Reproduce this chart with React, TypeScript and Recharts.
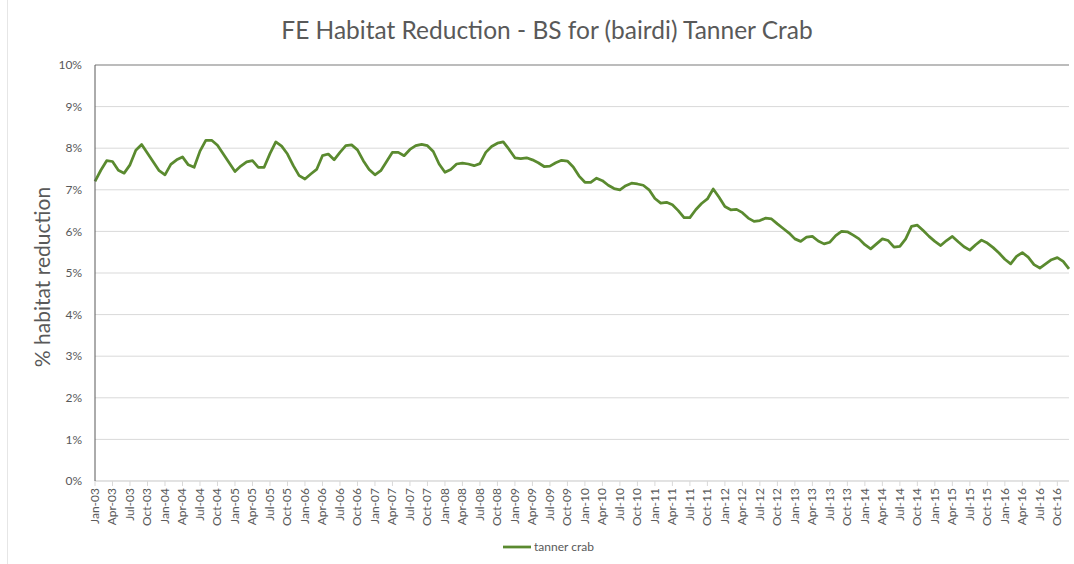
import {
  CartesianGrid,
  Legend,
  Line,
  LineChart,
  ReferenceLine,
  XAxis,
  YAxis,
} from "recharts";

const MONTHS = ["Jan", "Feb", "Mar", "Apr", "May", "Jun", "Jul", "Aug", "Sep", "Oct", "Nov", "Dec"];
const YEARS = ["03", "04", "05", "06", "07", "08", "09", "10", "11", "12", "13", "14", "15", "16"];

// % habitat reduction, monthly Jan-03 .. Dec-16
const tannerCrab = [
  7.20, 7.47, 7.70, 7.68, 7.47, 7.40, 7.60, 7.95, 8.09, 7.88, 7.67, 7.46,
  7.36, 7.61, 7.72, 7.79, 7.60, 7.54, 7.93, 8.19, 8.19, 8.07, 7.86, 7.65,
  7.44, 7.57, 7.67, 7.70, 7.54, 7.54, 7.87, 8.15, 8.05, 7.86, 7.58, 7.34,
  7.26, 7.38, 7.49, 7.82, 7.86, 7.72, 7.90, 8.06, 8.08, 7.96, 7.70, 7.49,
  7.36, 7.46, 7.68, 7.90, 7.90, 7.82, 7.97, 8.06, 8.09, 8.06, 7.92, 7.62,
  7.42, 7.49, 7.62, 7.64, 7.62, 7.58, 7.63, 7.90, 8.04, 8.12, 8.15, 7.97,
  7.77, 7.75, 7.77, 7.72, 7.65, 7.56, 7.57, 7.65, 7.71, 7.69, 7.55, 7.33,
  7.18, 7.18, 7.28, 7.22, 7.11, 7.03, 7.00, 7.10, 7.16, 7.14, 7.11, 7.00,
  6.79, 6.68, 6.70, 6.64, 6.50, 6.33, 6.33, 6.52, 6.67, 6.78, 7.02, 6.82,
  6.60, 6.52, 6.53, 6.45, 6.32, 6.24, 6.26, 6.32, 6.30, 6.18, 6.07, 5.96,
  5.82, 5.76, 5.86, 5.88, 5.77, 5.70, 5.74, 5.90, 6.00, 5.99, 5.91, 5.82,
  5.68, 5.58, 5.70, 5.82, 5.78, 5.62, 5.64, 5.82, 6.12, 6.15, 6.02, 5.88,
  5.76, 5.66, 5.78, 5.88, 5.75, 5.63, 5.55, 5.68, 5.79, 5.72, 5.61, 5.48,
  5.33, 5.22, 5.40, 5.49, 5.38, 5.20, 5.12, 5.22, 5.32, 5.37, 5.28, 5.10,
];

const yTicks = [0, 1, 2, 3, 4, 5, 6, 7, 8, 9, 10];

const categories = YEARS.flatMap((yy) => MONTHS.map((m) => `${m}-${yy}`));
const data = categories.map((month, i) => ({ month, v: tannerCrab[i] }));

const FONT = "Lato, 'Open Sans', sans-serif";
const TEXT = "#595959";
const LINE = "#5a8a2f";

function MonthTick({ x, y, payload }: any) {
  return (
    <g transform={`translate(${x},${y})`}>
      <text
        transform="rotate(-90)"
        textAnchor="end"
        dy={4}
        fontSize={12}
        fill={TEXT}
        fontFamily={FONT}
      >
        {payload.value}
      </text>
    </g>
  );
}

function LegendContent({ payload }: any) {
  return (
    <div style={{ display: "flex", alignItems: "center", paddingTop: 8, fontFamily: FONT }}>
      {(payload || []).map((p: any) => (
        <span key={p.value} style={{ display: "flex", alignItems: "center" }}>
          <svg width={28} height={6} style={{ marginRight: 3 }}>
            <line x1={0} y1={3} x2={28} y2={3} stroke={p.color} strokeWidth={2.75} />
          </svg>
          <span style={{ fontSize: 12, color: TEXT }}>{p.value}</span>
        </span>
      ))}
    </div>
  );
}

export default function App() {
  return (
    <div
      style={{
        position: "absolute",
        left: 0,
        top: 0,
        width: 1074,
        height: 564,
        background: "#fff",
        fontFamily: FONT,
      }}
    >
      <div
        style={{
          position: "absolute",
          left: 7,
          top: 0,
          width: 0,
          height: 564,
          borderLeft: "1px solid #e6e6e6",
        }}
      />
      <div
        style={{
          position: "absolute",
          left: 547,
          top: 15,
          transform: "translateX(-50%)",
          whiteSpace: "nowrap",
          fontSize: 24.5,
          color: TEXT,
        }}
      >
        FE Habitat Reduction - BS for (bairdi) Tanner Crab
      </div>
      <LineChart
        width={1074}
        height={564}
        data={data}
        margin={{ top: 65, right: 5, left: 0, bottom: 0 }}
      >
        <CartesianGrid vertical={false} stroke="#d9d9d9" />
        <XAxis
          dataKey="month"
          interval={2}
          height={50}
          tick={<MonthTick />}
          tickSize={5}
          tickMargin={2}
          tickLine={{ stroke: "#d9d9d9" }}
          axisLine={{ stroke: "#d9d9d9" }}
        />
        <YAxis
          width={95}
          domain={[0, 10]}
          ticks={yTicks}
          tickFormatter={(v: number) => `${v}%`}
          tick={{ fontSize: 12, fill: TEXT, fontFamily: FONT }}
          tickLine={false}
          tickSize={6}
          tickMargin={7}
          axisLine={{ stroke: "#595959" }}
          label={{
            value: "% habitat reduction",
            angle: -90,
            position: "center",
            dx: -5,
            dy: 4,
            style: { fontSize: 21, fill: TEXT, fontFamily: FONT },
          }}
        />
        <YAxis
          yAxisId="r"
          orientation="right"
          width={0}
          domain={[0, 10]}
          tick={false}
          tickLine={false}
          axisLine={{ stroke: "#404040" }}
        />
        <ReferenceLine y={10} stroke="#8c8c8c" />
        <Legend
          verticalAlign="bottom"
          align="left"
          content={<LegendContent />}
          wrapperStyle={{ left: 503, height: 33, width: "auto" }}
        />
        <Line
          type="linear"
          dataKey="v"
          name="tanner crab"
          stroke={LINE}
          strokeWidth={2.75}
          strokeLinejoin="round"
          dot={false}
          isAnimationActive={false}
        />
      </LineChart>
    </div>
  );
}
